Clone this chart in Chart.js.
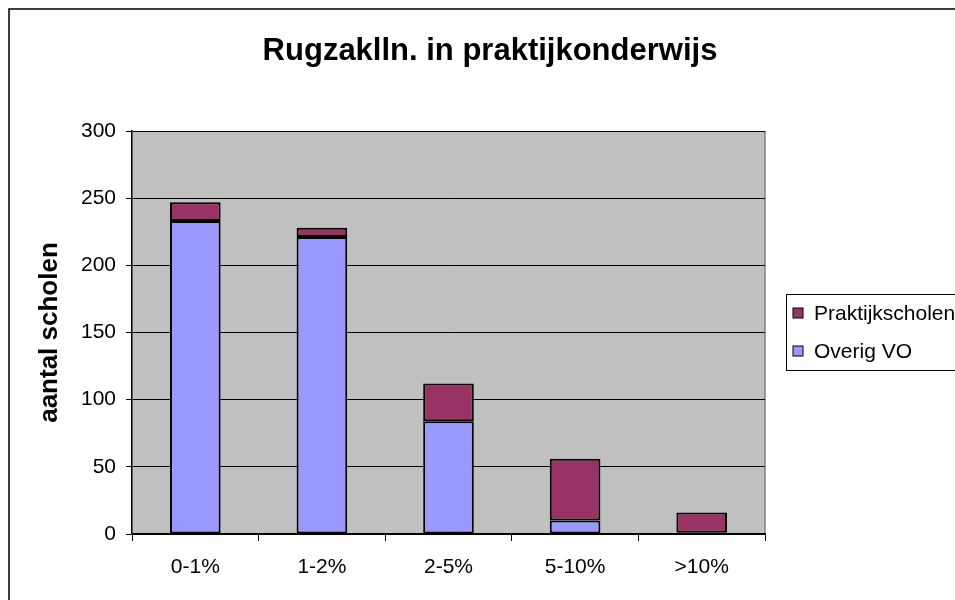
<!DOCTYPE html>
<html>
<head>
<meta charset="utf-8">
<script src="https://cdn.jsdelivr.net/npm/chart.js@4"></script>
<style>
  html, body { margin: 0; padding: 0; background: #fff; }
  #wrap { width: 955px; height: 600px; }
</style>
</head>
<body>
<div id="wrap"><canvas id="chart"></canvas></div>
<script>
/* Rugzakleerlingen in praktijkonderwijs - gestapelde staven */

const categories = ['0-1%', '1-2%', '2-5%', '5-10%', '>10%'];
const overigVO = [233, 221, 84, 10, 1];
const praktijkscholen = [14, 7, 28, 46, 15];
const yTicks = [0, 50, 100, 150, 200, 250, 300];

const FONT = 'Liberation Sans, Arial, Helvetica, sans-serif';

// kader, plotachtergrond, titel en legenda
const decorPlugin = {
    id: 'decor',
    beforeDraw(chart) {
        const { ctx, chartArea } = chart;
        ctx.save();
        ctx.fillStyle = '#ffffff';
        ctx.fillRect(0, 0, chart.width, chart.height);
        ctx.strokeStyle = '#000';
        ctx.lineWidth = 1.5;
        ctx.strokeRect(9, 9, chart.width + 20, chart.height + 20);
        ctx.fillStyle = '#c0c0c0';
        ctx.fillRect(chartArea.left, chartArea.top, chartArea.right - chartArea.left, chartArea.bottom - chartArea.top);
        ctx.strokeStyle = '#808080';
        ctx.lineWidth = 1.5;
        ctx.beginPath();
        ctx.moveTo(chartArea.right, chartArea.top);
        ctx.lineTo(chartArea.right, chartArea.bottom);
        ctx.stroke();
        ctx.restore();
    },
    afterDraw(chart) {
        const { ctx } = chart;
        ctx.save();
        ctx.fillStyle = '#000';
        ctx.font = `bold 31px ${FONT}`;
        ctx.textAlign = 'center';
        ctx.textBaseline = 'alphabetic';
        ctx.fillText('Rugzaklln. in praktijkonderwijs', 490, 60);

        // legenda (volgorde zoals in Excel: bovenste reeks eerst)
        const lx = 786, ly = 294;
        ctx.fillStyle = '#fff';
        ctx.fillRect(lx, ly, 200, 76);
        ctx.strokeStyle = '#000';
        ctx.lineWidth = 1;
        ctx.strokeRect(lx + 0.5, ly + 0.5, 200, 76);
        const items = chart.data.datasets.slice().reverse();
        ctx.font = `21px ${FONT}`;
        ctx.textAlign = 'left';
        ctx.textBaseline = 'middle';
        items.forEach((ds, i) => {
            const cy = ly + 19 + i * 38;
            ctx.fillStyle = ds.backgroundColor;
            ctx.fillRect(lx + 7, cy - 5, 10, 10);
            ctx.strokeStyle = '#000';
            ctx.strokeRect(lx + 7, cy - 5, 10, 10);
            ctx.fillStyle = '#000';
            ctx.fillText(ds.label, lx + 28, cy + 1);
        });
        ctx.restore();
    }
};

new Chart(document.getElementById('chart'), {
    type: 'bar',
    data: {
        labels: categories,
        datasets: [
            {
                label: 'Overig VO',
                data: overigVO,
                backgroundColor: '#9999ff',
                borderColor: '#000',
                borderWidth: 2,
                borderSkipped: false,
            },
            {
                label: 'Praktijkscholen',
                data: praktijkscholen,
                backgroundColor: '#993366',
                borderColor: '#000',
                borderWidth: 2,
                borderSkipped: false,
            },
        ],
    },
    options: {
        responsive: true,
        maintainAspectRatio: false,
        animation: false,
        devicePixelRatio: 1,
        layout: { padding: { top: 131, right: 190, left: 0, bottom: 0 } },
        datasets: { bar: { barPercentage: 0.4, categoryPercentage: 1 } },
        plugins: {
            legend: { display: false },
            title: { display: false },
            tooltip: { enabled: false },
        },
        scales: {
            x: {
                stacked: true,
                grid: { offset: true, drawOnChartArea: false, drawTicks: true, tickLength: 7, color: '#000', lineWidth: 1 },
                border: { color: '#000', width: 1.5 },
                ticks: { color: '#000', font: { family: FONT, size: 21 }, padding: 14, maxRotation: 0 },
                afterFit(scale) { scale.height = 66; },
            },
            y: {
                stacked: true,
                min: 0,
                max: 300,
                afterBuildTicks(scale) { scale.ticks = yTicks.map(v => ({ value: v })); },
                grid: { color: '#000', lineWidth: 1, drawTicks: true, tickLength: 6 },
                border: { color: '#000', width: 1.5 },
                ticks: { color: '#000', font: { family: FONT, size: 21 }, padding: 10 },
                title: {
                    display: true,
                    text: 'aantal scholen',
                    color: '#000',
                    font: { family: FONT, size: 26, weight: 'bold' },
                    padding: { top: 34, bottom: 0 },
                },
                afterFit(scale) { scale.width = 132; },
            },
        },
    },
    plugins: [decorPlugin],
});
</script>
</body>
</html>
